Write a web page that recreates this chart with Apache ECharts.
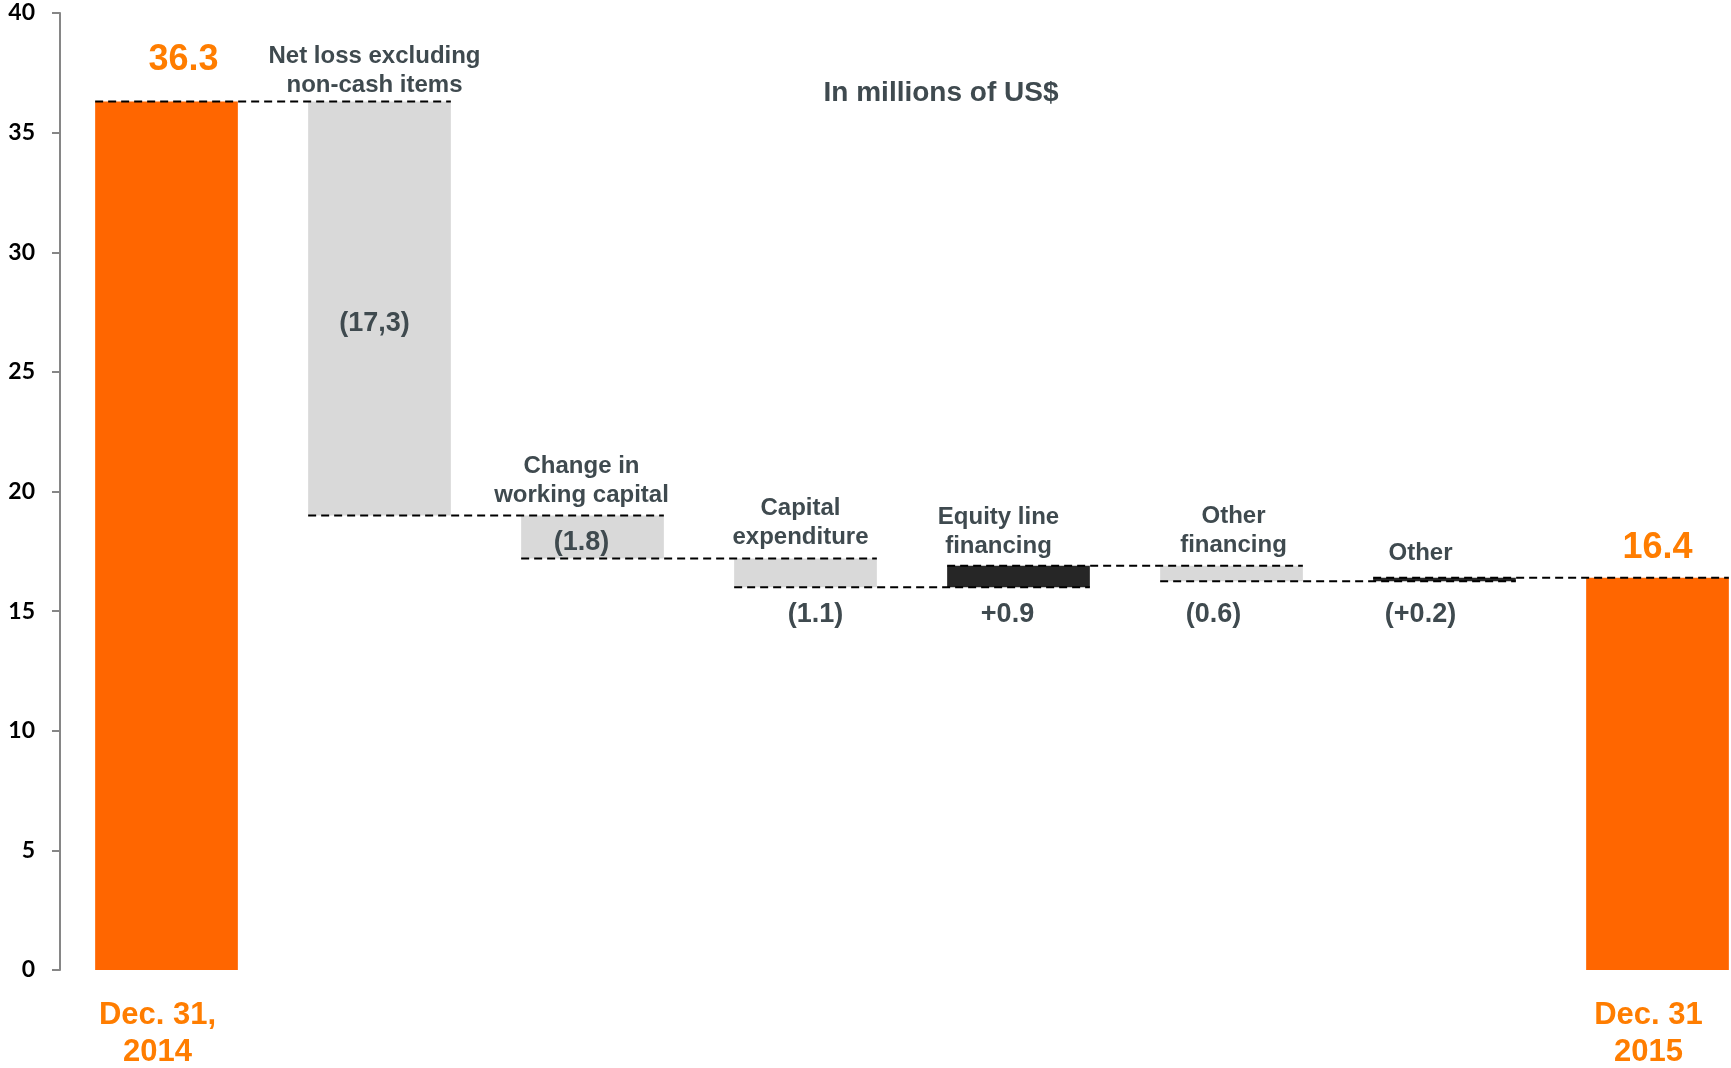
<!DOCTYPE html>
<html><head><meta charset="utf-8">
<script src="https://cdn.jsdelivr.net/npm/echarts@6/dist/echarts.min.js"></script>
<style>html,body{margin:0;padding:0;background:#fff}#c{width:1731px;height:1068px}</style>
</head><body><div id="c"></div>
<script>
// ---- data ----
const categories = ['Dec. 31,\n2014', 'Net loss excluding\nnon-cash items', 'Change in\nworking capital', 'Capital\nexpenditure', 'Equity line\nfinancing', 'Other\nfinancing', 'Other', 'Dec. 31\n2015'];
const startValue = 36.3;
const endValue = 16.4;
const stepChanges = [-17.3, -1.8, -1.2, 0.9, -0.65, 0.15];
const stepLabels = ['(17,3)', '(1.8)', '(1.1)', '+0.9', '(0.6)', '(+0.2)'];
const yTickValues = [0, 5, 10, 15, 20, 25, 30, 35, 40];
const unitTitle = 'In millions of US$';

// ---- layout / style constants ----
const BAR_FRAC = 0.67;
const ORANGE = '#FF6600', ORANGE_TXT = '#FF7D00', GREY = '#D9D9D9', DARK = '#262626', TXT = '#3f4a4f';
const FONT = '"Liberation Sans", Arial, sans-serif';
const titleDx = [-5, -11, -5, -20, 2, -24];
const titleDy = [5, 1, 0, 2, 1, -3];
const valueDx = [-5, -11, 10, -11, -18, -24];
const valueInsideDy = [15, 6, null, null, null, null];
const BELOW_VALUE = 14.85;

// ---- derived ----
const levels = [startValue];
stepChanges.forEach((d, k) => levels.push(+(levels[k] + d).toFixed(4)));
const n = categories.length;
const base = [0], dec = ['-'], inc = ['-'];
stepChanges.forEach((d, k) => {
  base.push(Math.min(levels[k], levels[k + 1]));
  dec.push(d < 0 ? Math.abs(d) : '-');
  inc.push(d > 0 ? d : '-');
});
base.push(0); dec.push('-'); inc.push('-');
const totals = categories.map((c, i) => i === 0 ? {value: startValue, label: {distance: 23, offset: [17, 0]}} : i === n - 1 ? {value: endValue, label: {distance: 12}} : '-');
const connectorData = levels.map((v, i) => [i, v]);
const annotData = stepChanges.map((d, k) => [k + 1, Math.max(levels[k], levels[k + 1]), Math.min(levels[k], levels[k + 1]), k]);

const chart = echarts.init(document.getElementById('c'));
chart.setOption({
  animation: false,
  backgroundColor: '#fff',
  grid: {left: 60, top: 13, width: 1704, height: 957, containLabel: false, outerBoundsMode: 'none'},
  xAxis: {
    type: 'category', data: categories,
    axisLine: {show: false}, axisTick: {show: false},
    axisLabel: {
      interval: 0, margin: 27,
      formatter: (v, i) => (i === 0 || i === n - 1) ? v : '',
      color: ORANGE_TXT, fontSize: 31, fontWeight: 'bold', fontFamily: FONT, lineHeight: 37,
      padding: [0, 18, 0, 0]
    }
  },
  yAxis: {
    type: 'value', min: yTickValues[0], max: yTickValues[yTickValues.length - 1], interval: yTickValues[1] - yTickValues[0],
    splitLine: {show: false},
    axisLine: {show: true, lineStyle: {color: '#868686', width: 2}},
    axisTick: {show: true, length: 8, lineStyle: {color: '#868686', width: 2}},
    axisLabel: {color: '#000', fontSize: 23, fontWeight: 'bold', fontFamily: 'Lato, "Open Sans", sans-serif', margin: 25}
  },
  graphic: [{
    type: 'text', x: 941, y: 93,
    style: {text: unitTitle, fill: TXT, fontSize: 28, fontWeight: 'bold', fontFamily: FONT, align: 'center', verticalAlign: 'middle'}
  }],
  series: [
    {type: 'bar', stack: 'w', data: base, barWidth: (BAR_FRAC * 100) + '%', itemStyle: {color: 'transparent'}, silent: true},
    {type: 'bar', stack: 'w', data: totals, barWidth: (BAR_FRAC * 100) + '%', itemStyle: {color: ORANGE},
      label: {show: true, position: 'top', color: ORANGE_TXT, fontSize: 36, fontWeight: 'bold', fontFamily: FONT}},
    {type: 'bar', stack: 'w', data: dec, barWidth: (BAR_FRAC * 100) + '%', itemStyle: {color: GREY}},
    {type: 'bar', stack: 'w', data: inc, barWidth: (BAR_FRAC * 100) + '%', itemStyle: {color: DARK}},
    {
      type: 'custom', z: 5, data: connectorData, encode: {x: 0, y: 1},
      renderItem: (params, api) => {
        const p = api.coord([api.value(0), api.value(1)]);
        const band = api.size([1, 0])[0];
        const bw = band * BAR_FRAC;
        return {type: 'line', shape: {x1: p[0] - bw / 2, y1: p[1], x2: p[0] + band + bw / 2, y2: p[1]},
          style: {stroke: '#000', lineWidth: 2, lineDash: [8, 5]}};
      }
    },
    {
      type: 'custom', z: 6, data: annotData, encode: {x: 0, y: 1},
      renderItem: (params, api) => {
        const i = api.value(0), top = api.value(1), bot = api.value(2), k = api.value(3);
        const pt = api.coord([i, top]), pb = api.coord([i, bot]);
        const children = [{
          type: 'text',
          style: {text: categories[i], x: pt[0] + titleDx[k], y: pt[1] - 7 + titleDy[k], align: 'center', verticalAlign: 'bottom',
            fill: TXT, fontSize: 24, fontWeight: 'bold', fontFamily: FONT, lineHeight: 29}
        }];
        let vy;
        if (valueInsideDy[k] !== null) vy = (pt[1] + pb[1]) / 2 + valueInsideDy[k];
        else vy = api.coord([i, BELOW_VALUE])[1];
        children.push({
          type: 'text',
          style: {text: stepLabels[k], x: pt[0] + valueDx[k], y: vy, align: 'center', verticalAlign: 'middle',
            fill: TXT, fontSize: 27, fontWeight: 'bold', fontFamily: FONT}
        });
        return {type: 'group', children};
      }
    }
  ]
});
</script>
</body></html>
